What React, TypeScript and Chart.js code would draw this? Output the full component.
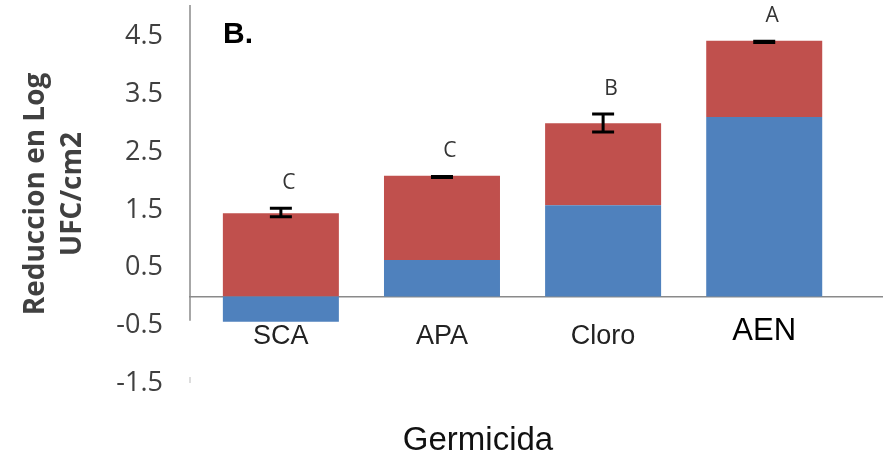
import React, { useEffect, useRef } from 'react';
import { Chart, registerables } from 'chart.js';

Chart.register(...registerables);

// ---- data ----
const categories = ['SCA', 'APA', 'Cloro', 'AEN'];
const blueValues = [-0.44, 0.63, 1.58, 3.11];
const redValues = [1.44, 1.46, 1.42, 1.32];
const errorMeans = [1.455, 2.07, 3.005, 4.41];
const errorSd = [0.075, 0.01, 0.155, 0.01];
const letters = ['C', 'C', 'B', 'A'];
const yTicks = [4.5, 3.5, 2.5, 1.5, 0.5, -0.5, -1.5];
const yTitle = ['Reduccion en Log', 'UFC/cm2'];
const xTitle = 'Germicida';
const panelLabel = 'B.';

const BLUE = '#4F81BD';
const RED = '#C0504D';
const AXIS = '#8a8a8a';

const overlay = {
  id: 'overlay',
  afterDatasetsDraw(chart: any) {
    const { ctx, chartArea, scales } = chart;
    const x = scales.x;
    const y = scales.y;
    ctx.save();
    // vertical axis line (ends just below zero, as in the reference)
    ctx.strokeStyle = AXIS;
    ctx.lineWidth = 1.5;
    ctx.beginPath();
    ctx.moveTo(chartArea.left, chartArea.top);
    ctx.lineTo(chartArea.left, y.getPixelForValue(-0.42));
    ctx.stroke();
    // tiny mark at -1.5
    const m = y.getPixelForValue(-1.5);
    ctx.strokeStyle = '#bbbbbb';
    ctx.lineWidth = 1;
    ctx.beginPath();
    ctx.moveTo(chartArea.left, m - 6);
    ctx.lineTo(chartArea.left, m);
    ctx.stroke();

    // error bars and letters
    categories.forEach((_, i) => {
      const px = x.getPixelForValue(i);
      const top = y.getPixelForValue(errorMeans[i] + errorSd[i]);
      const bot = y.getPixelForValue(errorMeans[i] - errorSd[i]);
      ctx.strokeStyle = '#000';
      ctx.lineWidth = 3;
      ctx.beginPath();
      ctx.moveTo(px, top);
      ctx.lineTo(px, bot);
      ctx.moveTo(px - 11, top);
      ctx.lineTo(px + 11, top);
      ctx.moveTo(px - 11, bot);
      ctx.lineTo(px + 11, bot);
      ctx.stroke();
      ctx.fillStyle = '#333333';
      ctx.font = '21px "Open Sans"';
      ctx.textAlign = 'center';
      ctx.textBaseline = 'middle';
      ctx.fillText(letters[i], px + 8, top - 25);
    });

    // panel label
    ctx.fillStyle = '#000';
    ctx.font = 'bold 30px "Liberation Sans"';
    ctx.textAlign = 'center';
    ctx.textBaseline = 'middle';
    ctx.fillText(panelLabel, chartArea.left + 48, chartArea.top + 30);

    // x title
    ctx.fillStyle = '#111';
    ctx.font = '33px "Liberation Sans"';
    ctx.fillText(xTitle, 478, 441);
    ctx.restore();
  },
};

export default function App() {
  const ref = useRef<HTMLCanvasElement | null>(null);
  useEffect(() => {
    document.body.style.margin = '0';
    if (!ref.current) return;
    const chart = new Chart(ref.current, {
      type: 'bar',
      data: {
        datasets: [
          {
            label: 'A',
            data: categories.map((_, i) => ({ x: i, y: blueValues[i] })),
            backgroundColor: BLUE,
            borderWidth: 0,
          },
          {
            label: 'B',
            data: categories.map((_, i) => ({ x: i, y: redValues[i] })),
            backgroundColor: RED,
            borderWidth: 0,
          },
        ],
      },
      options: {
        animation: false,
        responsive: false,
        devicePixelRatio: 1,
        layout: { padding: { top: 5, right: 7, bottom: 78, left: 0 } },
        datasets: { bar: { categoryPercentage: 1, barPercentage: 0.72 } },
        plugins: { legend: { display: false }, tooltip: { enabled: false } },
        scales: {
          x: {
            type: 'linear',
            position: { y: 0 },
            min: -0.564,
            max: 3.731,
            offset: false,
            stacked: true,
            afterBuildTicks: (s: any) => {
              s.ticks = categories.map((_, i) => ({ value: i }));
            },
            afterFit: (s: any) => {
              s.paddingLeft = 0;
              s.paddingRight = 0;
            },
            ticks: {
              autoSkip: false,
              maxRotation: 0,
              padding: 24,
              callback: (v: any) => categories[v] ?? '',
              font: (c: any) =>
                c.index === 3
                  ? { family: '"Liberation Sans"', size: 31, lineHeight: 0.7 }
                  : { family: '"Liberation Sans"', size: 27 },
              color: (c: any) => (c.index === 3 ? '#000' : '#222'),
            },
            grid: { display: false, drawTicks: false, offset: false },
            border: { display: true, color: AXIS, width: 1.5 },
          },
          y: {
            min: -1.5,
            max: 5.05,
            stacked: true,
            afterBuildTicks: (s: any) => {
              s.ticks = yTicks.map((v) => ({ value: v }));
            },
            afterFit: (s: any) => {
              s.width = 190;
              s.paddingTop = 0;
              s.paddingBottom = 0;
            },
            ticks: {
              callback: (v: any) => String(v),
              font: { family: '"Open Sans"', size: 27 },
              color: '#404040',
              padding: 27,
            },
            grid: { display: false, drawTicks: false },
            border: { display: false },
            title: {
              display: true,
              text: yTitle,
              font: { family: '"Open Sans"', weight: 'bold', size: 28, lineHeight: 1.32 },
              color: '#404040',
              padding: { top: 18, bottom: 0 },
            },
          },
        },
      },
      plugins: [overlay],
    } as any);
    return () => chart.destroy();
  }, []);
  return (
    <div style={{ width: 889, height: 461, background: '#fff' }}>
      <canvas ref={ref} width={889} height={461} style={{ display: 'block' }} />
    </div>
  );
}
